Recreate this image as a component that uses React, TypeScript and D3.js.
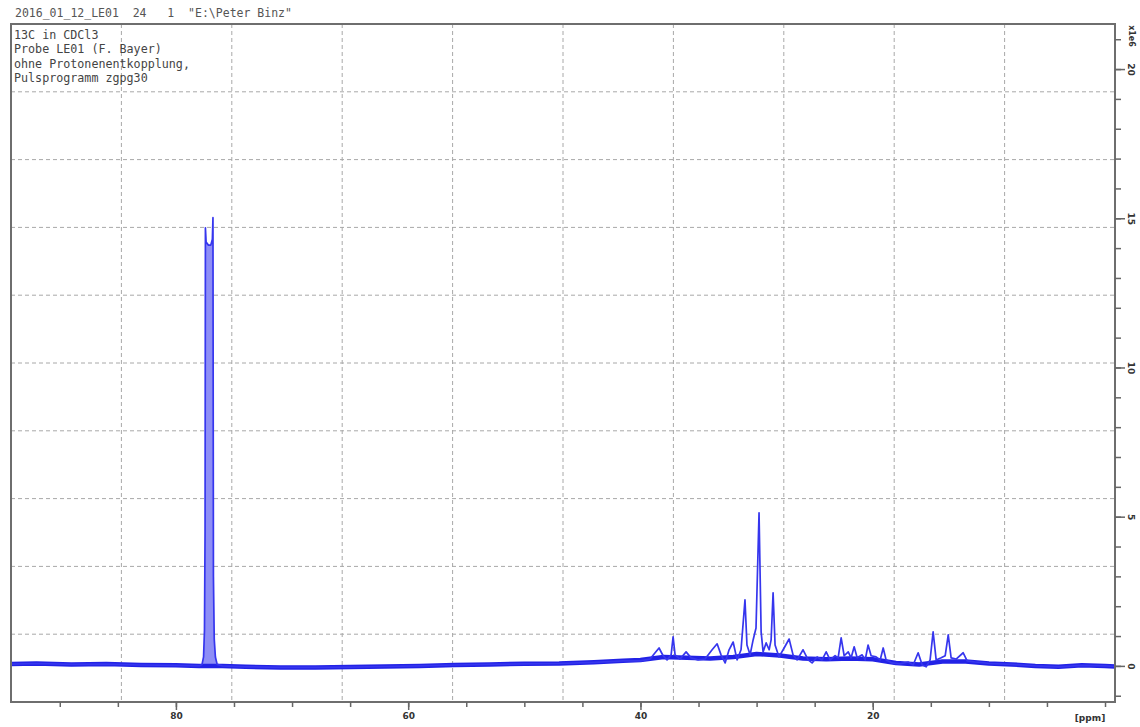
import * as d3 from "d3";
import { useEffect, useRef } from "react";

const WIDTH = 1140;
const HEIGHT = 727;
const frame = { left: 11, top: 24, right: 1115, bottom: 702 };

// texts
const headerText = '2016_01_12_LE01  24   1  "E:\\Peter Binz"';
const noteLines = [
  "13C in CDCl3",
  "Probe LE01 (F. Bayer)",
  "ohne Protonenentkopplung,",
  "Pulsprogramm zgpg30",
];
const ppmLabels = [80, 60, 40, 20];
const ppmMinorTicks = [90, 85, 80, 75, 70, 65, 60, 55, 50, 45, 40, 35, 30, 25, 20, 15, 10, 5, 0];
const intensityLabels = [0, 5, 10, 15, 20];
const intensityMinorTicks = [-1, 0, 1, 2, 3, 4, 5, 6, 7, 8, 9, 10, 11, 12, 13, 14, 15, 16, 17, 18, 19, 20, 21];
const intensityUnit = "x1e6";

// [ppm, intensity]
const baseline = [
  [94.2, 0.06], [92, 0.08], [89, 0.05], [86, 0.06], [83, 0.03], [80, 0.02], [78, 0.0],
  [76, 0.0], [74, -0.03], [71, -0.05], [68, -0.05], [65, -0.04], [62, -0.02], [59, 0.0],
  [56, 0.03], [53, 0.05], [50, 0.07], [47, 0.08], [44, 0.12], [41.5, 0.17], [40, 0.2],
  [38, 0.3], [36, 0.27], [34, 0.25], [32, 0.3], [30, 0.4], [28, 0.35], [26, 0.25],
  [24, 0.22], [22, 0.25], [20, 0.22], [18, 0.1], [16, 0.05], [14, 0.15], [12, 0.15],
  [10, 0.08], [8, 0.05], [6, 0.0], [4, -0.03], [2, 0.02], [0, 0.0], [-0.86, -0.02],
];

// CDCl3 triplet, drawn as one column
const solventPeak = [
  [77.75, 0.05], [77.62, 0.3], [77.54, 1.2], [77.49, 4.5], [77.46, 14.68], [77.4, 14.2],
  [77.2, 14.1], [77.0, 14.1], [76.86, 14.3], [76.81, 15.02], [76.77, 3.0], [76.7, 0.9],
  [76.6, 0.3], [76.45, 0.05],
];

const samplePeaks = [
  [40.03, 0.17], [39.17, 0.23], [38.74, 0.44], [38.4, 0.6], [38.05, 0.34], [37.71, 0.2],
  [37.36, 0.37], [37.19, 0.97], [37.02, 0.37], [36.59, 0.23], [36.07, 0.47], [35.64, 0.27],
  [35.04, 0.2], [34.44, 0.23], [33.83, 0.54], [33.4, 0.74], [33.06, 0.37], [32.71, 0.1],
  [32.37, 0.54], [32.02, 0.8], [31.68, 0.2], [31.34, 0.54], [31.0, 2.21], [30.83, 0.7],
  [30.56, 0.37], [30.3, 0.87], [30.05, 1.27], [29.79, 5.13], [29.61, 1.14], [29.44, 0.47],
  [29.18, 0.77], [28.92, 0.54], [28.75, 0.87], [28.58, 2.45], [28.41, 0.7], [28.07, 0.3],
  [27.63, 0.6], [27.2, 0.9], [26.86, 0.37], [26.51, 0.2], [26.0, 0.54], [25.56, 0.2],
  [25.22, 0.1], [24.79, 0.3], [24.36, 0.2], [24.01, 0.47], [23.67, 0.2], [23.24, 0.34],
  [22.98, 0.27], [22.72, 0.94], [22.46, 0.34], [22.11, 0.47], [21.86, 0.27], [21.6, 0.64],
  [21.34, 0.27], [20.91, 0.37], [20.65, 0.2], [20.4, 0.7], [20.14, 0.34], [19.71, 0.3],
  [19.36, 0.2], [19.1, 0.6], [18.85, 0.2], [18.33, 0.1], [17.64, 0.07], [16.95, 0.13],
  [16.52, 0.03], [16.09, 0.44], [15.74, 0.03], [15.4, -0.03], [15.06, 0.2], [14.8, 1.14],
  [14.54, 0.2], [14.11, 0.27], [13.76, 0.34], [13.5, 1.04], [13.25, 0.27], [12.82, 0.23],
  [12.21, 0.44], [11.87, 0.17], [11.18, 0.13], [10.32, 0.1],
];

const App = () => {
  const svgRef = useRef(null);

  useEffect(() => {
    const svg = d3.select(svgRef.current);
    svg.selectAll("*").remove();

    const xScale = d3.scaleLinear().domain([94.2, -0.86]).range([frame.left, frame.right]);
    const yScale = d3.scaleLinear().domain([-1.21, 21.51]).range([frame.bottom, frame.top]);
    const w = frame.right - frame.left;
    const h = frame.bottom - frame.top;

    // grid, tenths of the frame
    const grid = svg.append("g").attr("stroke", "#a8a8a8").attr("stroke-width", 1).attr("stroke-dasharray", "4,3");
    d3.range(1, 10).forEach((i) => {
      const gx = frame.left + (i * w) / 10;
      const gy = frame.top + (i * h) / 10;
      grid.append("line").attr("x1", gx).attr("x2", gx).attr("y1", frame.top).attr("y2", frame.bottom);
      grid.append("line").attr("x1", frame.left).attr("x2", frame.right).attr("y1", gy).attr("y2", gy);
    });

    const line = d3
      .line()
      .x((d) => xScale(d[0]))
      .y((d) => yScale(d[1]));

    // solvent column fill
    svg
      .append("path")
      .attr(
        "d",
        d3
          .area()
          .x((d) => xScale(d[0]))
          .y0(yScale(0))
          .y1((d) => yScale(d[1]))(solventPeak)
      )
      .attr("fill", "#8e8ef6");

    // noise band along the baseline
    svg
      .append("path")
      .attr("d", line(baseline))
      .attr("fill", "none")
      .attr("stroke", "#2222e6")
      .attr("stroke-width", 4.5)
      .attr("stroke-linejoin", "round");

    const spectrum = [
      ...baseline.filter((d) => d[0] > 77.75 || (d[0] < 76.45 && d[0] > 40.1) || d[0] < 10.3),
      ...solventPeak,
      ...samplePeaks,
    ].sort((a, b) => b[0] - a[0]);

    svg
      .append("path")
      .attr("d", line(spectrum))
      .attr("fill", "none")
      .attr("stroke", "#3636ee")
      .attr("stroke-width", 1.7)
      .attr("stroke-linejoin", "round");

    // frame
    svg
      .append("rect")
      .attr("x", frame.left)
      .attr("y", frame.top)
      .attr("width", w)
      .attr("height", h)
      .attr("fill", "none")
      .attr("stroke", "#6e6e6e")
      .attr("stroke-width", 2);

    // bottom axis
    const bottom = svg.append("g").attr("transform", `translate(0,${frame.bottom})`);
    bottom
      .append("g")
      .call(d3.axisBottom(xScale).tickValues(ppmMinorTicks).tickSize(5).tickFormat(() => ""));
    bottom
      .append("g")
      .call(d3.axisBottom(xScale).tickValues(ppmLabels).tickSize(8).tickPadding(3));
    bottom.selectAll(".domain").remove();
    bottom.selectAll("line").attr("stroke", "#666").attr("stroke-width", 1.5);
    bottom
      .selectAll("text")
      .attr("fill", "#333")
      .attr("font-family", "DejaVu Sans, sans-serif")
      .attr("font-size", 9)
      .attr("font-weight", "bold");
    svg
      .append("text")
      .attr("x", 1090)
      .attr("y", 721)
      .attr("text-anchor", "middle")
      .attr("fill", "#333")
      .attr("font-family", "DejaVu Sans, sans-serif")
      .attr("font-size", 9)
      .attr("font-weight", "bold")
      .text("[ppm]");

    // right axis
    const right = svg.append("g").attr("transform", `translate(${frame.right},0)`);
    right
      .append("g")
      .call(d3.axisRight(yScale).tickValues(intensityMinorTicks).tickSize(6).tickFormat(() => ""));
    const major = right
      .append("g")
      .call(d3.axisRight(yScale).tickValues(intensityLabels).tickSize(10));
    right.selectAll(".domain").remove();
    right.selectAll("line").attr("stroke", "#666").attr("stroke-width", 1.5);
    major
      .selectAll("text")
      .attr("x", 0)
      .attr("dy", null)
      .attr("text-anchor", "middle")
      .attr("transform", "translate(16,0) rotate(90)")
      .attr("dominant-baseline", "central")
      .attr("fill", "#333")
      .attr("font-family", "DejaVu Sans, sans-serif")
      .attr("font-size", 9)
      .attr("font-weight", "bold");
    svg
      .append("text")
      .attr("transform", `translate(${frame.right + 16},36) rotate(90)`)
      .attr("text-anchor", "middle")
      .attr("dominant-baseline", "central")
      .attr("fill", "#333")
      .attr("font-family", "DejaVu Sans, sans-serif")
      .attr("font-size", 8)
      .attr("font-weight", "bold")
      .text(intensityUnit);

    // header and notes
    svg
      .append("text")
      .attr("x", 15)
      .attr("y", 17)
      .attr("fill", "#555")
      .attr("font-family", "DejaVu Sans Mono, monospace")
      .attr("font-size", 11.5)
      .attr("xml:space", "preserve")
      .style("white-space", "pre")
      .text(headerText);

    svg
      .append("g")
      .selectAll("text")
      .data(noteLines)
      .join("text")
      .attr("x", 14)
      .attr("y", (d, i) => 39 + i * 14.3)
      .attr("fill", "#444")
      .attr("font-family", "DejaVu Sans Mono, monospace")
      .attr("font-size", 11.7)
      .text((d) => d);
  }, []);

  return (
    <svg
      ref={svgRef}
      width={WIDTH}
      height={HEIGHT}
      style={{ position: "absolute", left: 0, top: 0, background: "#fff" }}
    />
  );
};

export default App;
